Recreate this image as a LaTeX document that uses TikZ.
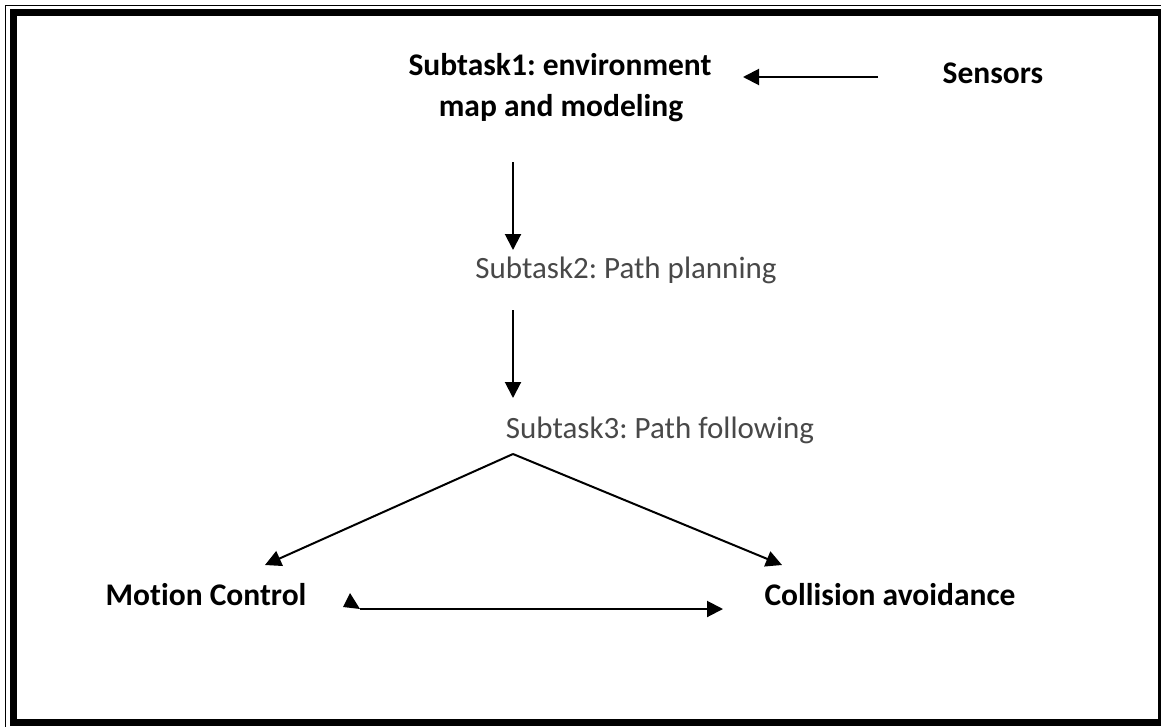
\documentclass[tikz,border=0pt]{standalone}
\usepackage{fontspec}
\setmainfont{Carlito}[Ligatures=NoCommon]
\usetikzlibrary{arrows.meta}
\definecolor{lightink}{RGB}{72,72,72}
\frenchspacing
\begin{document}
\begin{tikzpicture}[x=1pt,y=-1pt,
  boldlbl/.style={font=\fontsize{31.5}{44}\selectfont\bfseries, inner sep=0pt, anchor=base},
  lightlbl/.style={font=\fontsize{31}{40}\selectfont, text=lightink, inner sep=0pt, anchor=base},
  arr/.style={line width=2pt, -{Triangle[length=16pt,width=16pt]}}]
  \useasboundingbox (0,0) rectangle (1161,726);
  % page frame: thin outer rule and thick inner rule
  \draw[line width=1.5pt] (5.5,5.5) rectangle (1170,735);
  \draw[line width=7pt] (13.5,12.5) rectangle (1161.5,722.5);

  % labels
  \node[boldlbl] (s1a) at (560,75) {Subtask1: environment};
  \node[boldlbl] (s1b) at (561,116) {map and modeling};
  \node[boldlbl] (sens) at (993,83) {Sensors};
  \node[lightlbl] (s2) at (626,278) {Subtask2: Path planning};
  \node[lightlbl] (s3) at (660,438) {Subtask3: Path following};
  \node[boldlbl] (mc) at (206,605) {Motion Control};
  \node[boldlbl] (ca) at (890,605) {Collision avoidance};

  % connector end points
  \coordinate (sensout) at (878,77);
  \coordinate (s1in) at (743,77);
  \coordinate (s1out) at (513,162);
  \coordinate (s2in) at (513,250);
  \coordinate (s2out) at (513,310);
  \coordinate (s3in) at (513,398);
  \coordinate (fork) at (513,454);
  \coordinate (mcin) at (265,565);
  \coordinate (cain) at (782,565);
  \coordinate (mcout) at (360,609);
  \coordinate (cain2) at (723,609);

  % connectors
  \draw[arr] (sensout) -- (s1in);
  \draw[arr] (s1out) -- (s2in);
  \draw[arr] (s2out) -- (s3in);
  \draw[arr] (fork) -- (mcin);
  \draw[arr] (fork) -- (cain);
  \draw[arr] (mcout) -- (cain2);
  \fill (350,593) -- (343,607) -- (360,609) -- cycle;
\end{tikzpicture}
\end{document}
